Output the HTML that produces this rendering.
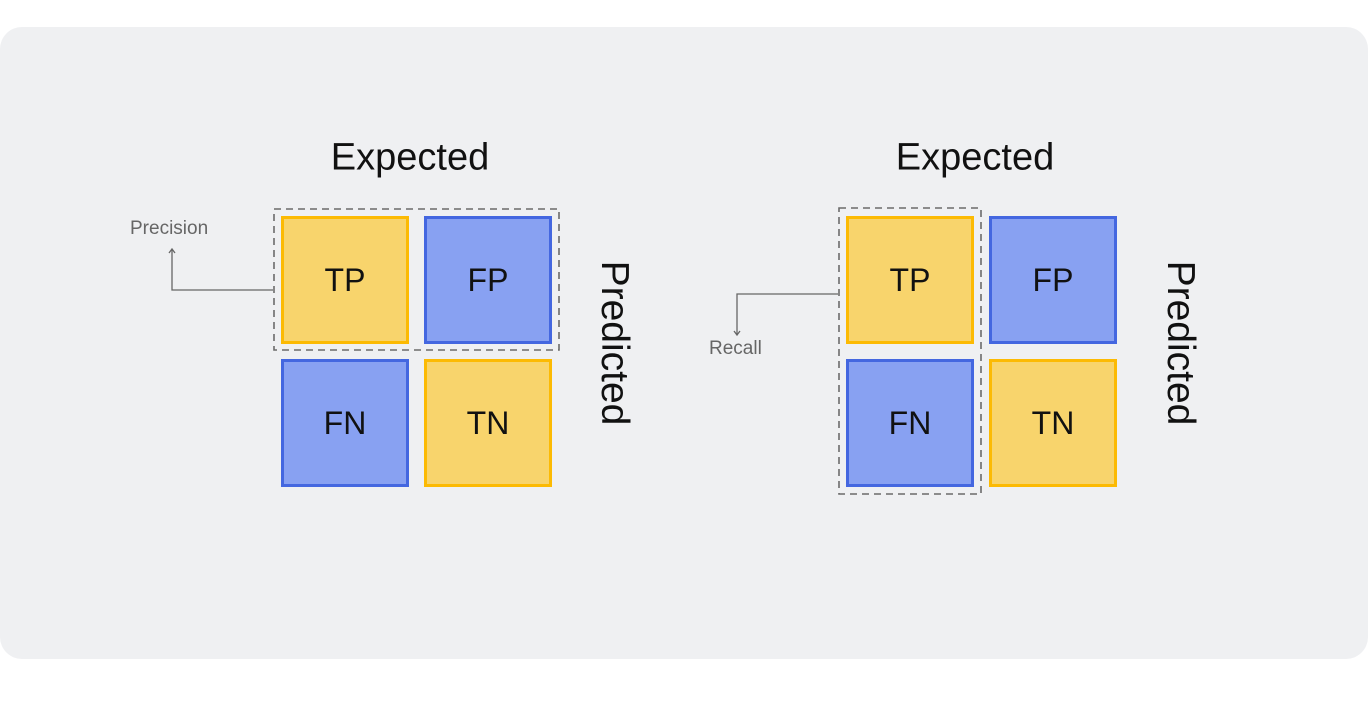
<!DOCTYPE html>
<html><head><meta charset="utf-8"><style>
body{margin:0;width:1368px;height:706px;background:#fff;overflow:hidden;font-family:"Liberation Sans","DejaVu Sans",sans-serif}
#panel{position:absolute;left:0;top:27px;width:1368px;height:632px;background:#eff0f2;border-radius:22px}
.box{position:absolute;width:122px;height:122px;border:3px solid;display:flex;align-items:center;justify-content:center;font-size:32px;color:#111}
.y{background:#f8d46c;border-color:#fcba03}
.b{background:#88a1f2;border-color:#4467e0}
.t{position:absolute;font-size:38px;color:#111;transform:translate(-50%,-50%);white-space:nowrap}
.p{position:absolute;font-size:39px;color:#111;transform:translate(-50%,-50%) rotate(90deg);white-space:nowrap}
.lbl{position:absolute;font-size:19px;color:#666;white-space:nowrap}
</style></head><body>
<div id="panel"></div>

<div class="t" style="left:410px;top:158px">Expected</div>
<div class="p" style="left:614px;top:343px">Predicted</div>
<div class="box y" style="left:281px;top:216px">TP</div>
<div class="box b" style="left:424px;top:216px">FP</div>
<div class="box b" style="left:281px;top:359px">FN</div>
<div class="box y" style="left:424px;top:359px">TN</div>
<div class="lbl" style="left:130px;top:218px">Precision</div>

<div class="t" style="left:975px;top:158px">Expected</div>
<div class="p" style="left:1180px;top:343px">Predicted</div>
<div class="box y" style="left:846px;top:216px">TP</div>
<div class="box b" style="left:989px;top:216px">FP</div>
<div class="box b" style="left:846px;top:359px">FN</div>
<div class="box y" style="left:989px;top:359px">TN</div>
<div class="lbl" style="left:709px;top:338px">Recall</div>

<svg width="1368" height="706" style="position:absolute;left:0;top:0">
<g stroke="#6b6b6b" stroke-width="1.6" fill="none" stroke-dasharray="7,5">
<rect x="274" y="209" width="285" height="141"/>
<rect x="839" y="208" width="142" height="286"/>
</g>
<g stroke="#666" stroke-width="1.3" fill="none">
<polyline points="273,290 172,290 172,249"/><polyline points="169,253 172,249 175,253"/>
<polyline points="838,294 737,294 737,335"/><polyline points="734,331 737,335 740,331"/>
</g></svg>
</body></html>
